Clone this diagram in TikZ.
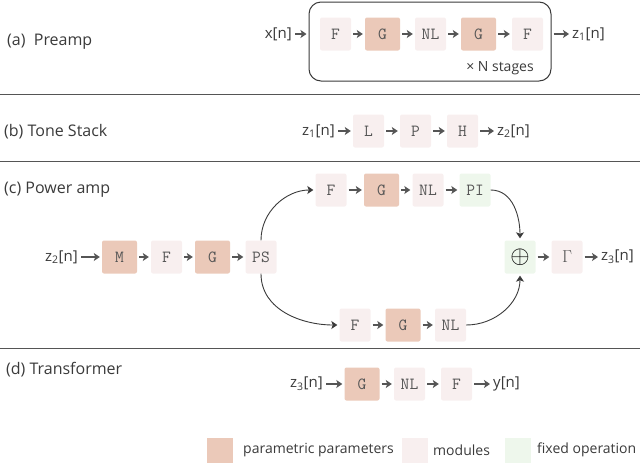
\documentclass[tikz,border=0pt]{standalone}
\usepackage{fontspec}
\setmainfont{Open Sans}
\usetikzlibrary{arrows.meta}
\definecolor{parcol}{HTML}{EBC9B9}
\definecolor{modcol}{HTML}{F8EFEF}
\definecolor{fixcol}{HTML}{EEF7EC}
\definecolor{inkcol}{HTML}{3A3A3A}
\definecolor{arrcol}{HTML}{555555}
\tikzset{
    modbox/.style={fill=modcol, rounded corners=2pt, minimum width=31pt, minimum height=33pt, inner sep=0pt, font=\fontsize{17}{17}\ttfamily, text=arrcol},
    parbox/.style={modbox, fill=parcol, minimum width=35pt},
    fixbox/.style={modbox, fill=fixcol},
    sig/.style={font=\fontsize{15}{15}\selectfont, text=inkcol, inner sep=1pt},
    part/.style={anchor=west, font=\fontsize{16}{16}\selectfont, text=inkcol, inner sep=0pt},
    legsq/.style={minimum width=26pt, minimum height=25pt, inner sep=0pt},
    legtext/.style={anchor=west, font=\fontsize{14}{14}\selectfont, text=inkcol, inner sep=0pt},
    flow/.style={-{Stealth[length=6pt,width=8pt,inset=1.5pt]}, line width=1.5pt, draw=arrcol, shorten <=2pt, shorten >=2pt},
    curveflow/.style={-{Stealth[length=6pt,width=8pt,inset=1.5pt]}, line width=0.9pt, draw=inkcol, shorten >=2pt},
}
\begin{document}
\begin{tikzpicture}[x=1pt,y=-1pt]
				  \useasboundingbox (0,0) rectangle (640,464);
				  %separators
				  \draw[arrcol, line width=1pt] (0,94) -- (640,94);
				  \draw[arrcol, line width=1pt] (0,161) -- (640,161);
				  \draw[arrcol, line width=1pt] (0,348) -- (640,348);

				  %(a) preamp
				  \node[part] (La) at (7,42) {(a)\ \ Preamp};
				  \node[draw=inkcol, line width=1pt, rounded corners=12pt, minimum width=242pt, minimum height=79pt] (S) at (430,41.5) {};
				  \node[sig, anchor=east] (X) at (293,34) {x[n]};
				  \node[modbox] (A1) at (335.5,34) {F};
				  \node[parbox] (A2) at (382.5,34) {G};
				  \node[modbox] (A3) at (430.5,34) {NL};
				  \node[parbox] (A4) at (478.5,34) {G};
				  \node[modbox] (A5) at (527.5,34) {F};
				  \node[sig, anchor=west] (Z1) at (571,34) {z\textsubscript{1}[n]};
				  \node[legtext, anchor=center] (N) at (500,68) {× N stages};
				  \draw[flow] (X) -- (X -| S.west);
				  \draw[flow] (A1) -- (A2);
				  \draw[flow] (A2) -- (A3);
				  \draw[flow] (A3) -- (A4);
				  \draw[flow] (A4) -- (A5);
				  \draw[flow] (Z1 -| S.east) -- (Z1);

				  %(b) tone stack
				  \node[part] (Lb) at (4,132) {(b) Tone Stack};
				  \node[sig, anchor=east] (Z1b) at (336,131) {z\textsubscript{1}[n]};
				  \node[modbox] (B1) at (368.5,131) {L};
				  \node[modbox] (B2) at (415.5,131) {P};
				  \node[modbox] (B3) at (462.5,131) {H};
				  \node[sig, anchor=west] (Z2) at (496,131) {z\textsubscript{2}[n]};
				  \draw[flow] (Z1b) -- (B1);
				  \draw[flow] (B1) -- (B2);
				  \draw[flow] (B2) -- (B3);
				  \draw[flow] (B3) -- (Z2);

				  %(c) power amp
				  \node[part] (Lc) at (4,190) {(c) Power amp};
				  \node[sig, anchor=east] (Z2c) at (79,257) {z\textsubscript{2}[n]};
				  \node[parbox] (C1) at (119.5,257) {M};
				  \node[modbox] (C2) at (166.5,257) {F};
				  \node[parbox] (C3) at (212.5,257) {G};
				  \node[modbox] (PS) at (261,257) {PS};
				  \node[modbox] (U1) at (331,190) {F};
				  \node[parbox] (U2) at (381.5,190) {G};
				  \node[modbox] (U3) at (428,190) {NL};
				  \node[fixbox] (PI) at (475,190) {PI};
				  \node[modbox] (D1) at (355,325) {F};
				  \node[parbox] (D2) at (403,325) {G};
				  \node[modbox] (D3) at (450.5,325) {NL};
				  \node[fixbox, font=\fontsize{30}{30}\selectfont, text=black] (Sum) at (520,257) {$\oplus$};
				  \node[modbox] (T) at (567,257) {$\Gamma$};
				  \node[sig, anchor=west] (Z3) at (600,257) {z\textsubscript{3}[n]};
				  \draw[flow] (Z2c) -- (C1);
				  \draw[flow] (C1) -- (C2);
				  \draw[flow] (C2) -- (C3);
				  \draw[flow] (C3) -- (PS);
				  \draw[curveflow] (PS.north) to[out=90,in=180] (U1.west);
				  \draw[flow] (U1) -- (U2);
				  \draw[flow] (U2) -- (U3);
				  \draw[flow] (U3) -- (PI);
				  \draw[curveflow] (PS.south) to[out=-90,in=180] (D1.west);
				  \draw[flow] (D1) -- (D2);
				  \draw[flow] (D2) -- (D3);
				  \draw[curveflow] (PI.east) to[out=0,in=90] (Sum.north);
				  \draw[curveflow] (D3.east) to[out=0,in=-90] (Sum.south);
				  \draw[flow] (Sum) -- (T);
				  \draw[flow] (T) -- (Z3);

				  %(d) transformer
				  \node[part] (Ld) at (6,370) {(d) Transformer};
				  \node[sig, anchor=east] (Z3d) at (324,384) {z\textsubscript{3}[n]};
				  \node[parbox] (E1) at (362,384) {G};
				  \node[modbox] (E2) at (409.5,384) {NL};
				  \node[modbox] (E3) at (456.5,384) {F};
				  \node[sig, anchor=west] (Y) at (492,384) {y[n]};
				  \draw[flow] (Z3d) -- (E1);
				  \draw[flow] (E1) -- (E2);
				  \draw[flow] (E2) -- (E3);
				  \draw[flow] (E3) -- (Y);

				  %legend
				  \node[legsq, fill=parcol] (Q1) at (220,450) {};
				  \node[legtext] (T1) at (243,450) {parametric parameters};
				  \node[legsq, fill=modcol] (Q2) at (415,450) {};
				  \node[legtext] (T2) at (433,450) {modules};
				  \node[legsq, fill=fixcol] (Q3) at (517.5,450) {};
				  \node[legtext] (T3) at (537,450) {fixed operation};
				  \end{tikzpicture}
\end{document}
